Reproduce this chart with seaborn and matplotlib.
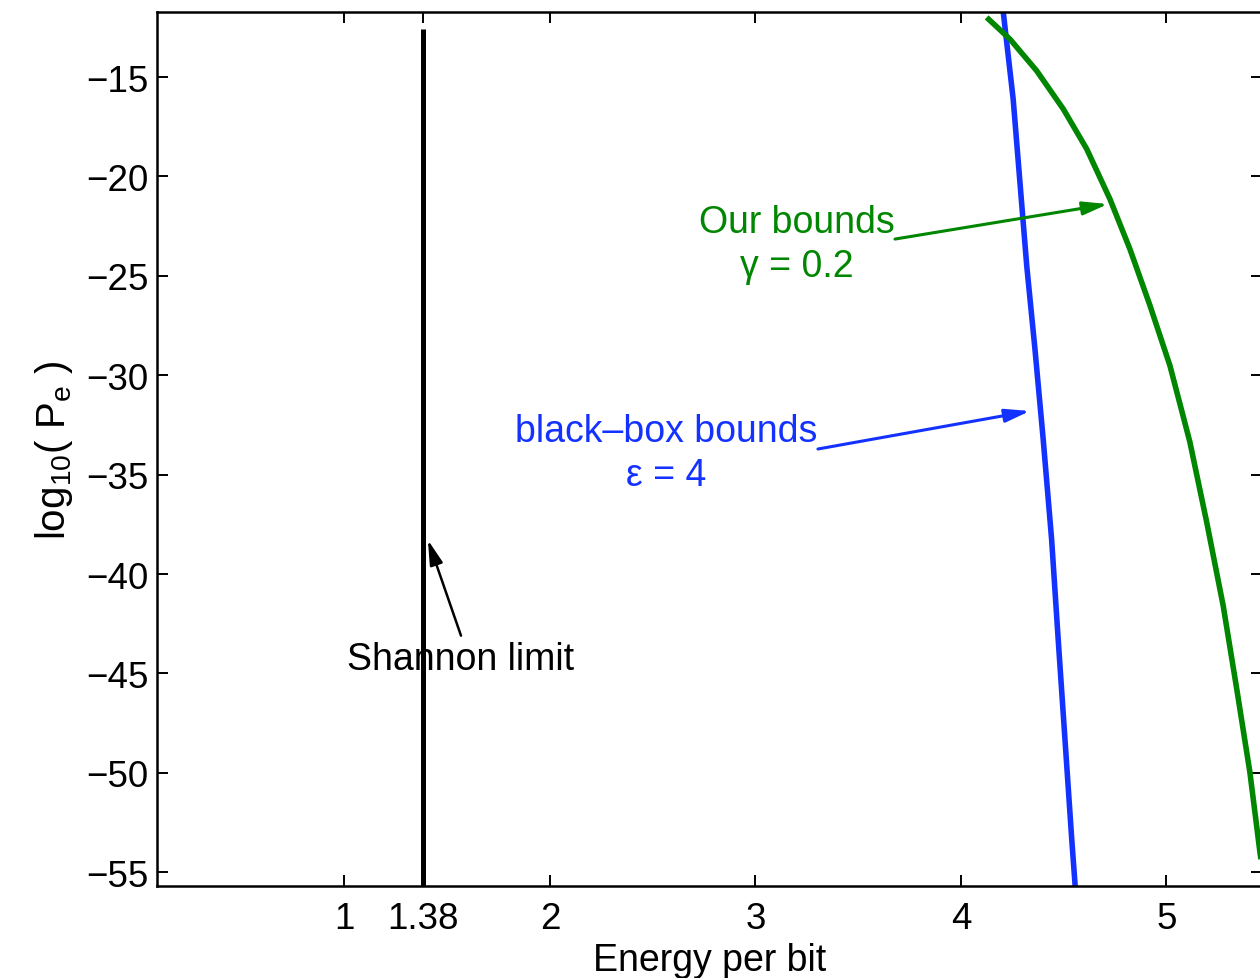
import matplotlib
matplotlib.use("Agg")
import matplotlib.pyplot as plt
import seaborn as sns
import pandas as pd

# Error-probability bounds versus energy per bit
green_energy = [4.125, 4.238, 4.368, 4.498, 4.612, 4.725, 4.822, 4.920, 5.017,
                5.114, 5.196, 5.276, 5.342, 5.406, 5.455, 5.480]
green_logpe = [-12.00, -13.09, -14.68, -16.61, -18.62, -21.14, -23.65, -26.50,
               -29.52, -33.36, -37.40, -41.59, -45.78, -49.97, -54.00, -55.70]

blue_energy = [4.200, 4.206, 4.254, 4.287, 4.320, 4.360, 4.400, 4.441, 4.473,
               4.506, 4.539, 4.555, 4.558]
blue_logpe = [-11.40, -11.75, -16.11, -20.30, -24.49, -28.68, -33.21, -38.24,
              -43.27, -48.30, -53.33, -55.59, -56.00]

shannon_energy = [1.38, 1.38]
shannon_logpe = [-12.6, -55.69]

x_ticks = [1, 1.38, 2, 3, 4, 5]
x_tick_labels = ["1", "1.38", "2", "3", "4", "5"]
y_ticks = [-55, -50, -45, -40, -35, -30, -25, -20, -15]

GREEN = "#008600"
BLUE = "#1432ff"

sns.set_theme(style="ticks")
plt.rcParams["font.family"] = ["Liberation Sans", "DejaVu Sans"]
plt.rcParams["mathtext.fontset"] = "custom"
plt.rcParams["mathtext.rm"] = "Liberation Sans"
plt.rcParams["mathtext.it"] = "Liberation Sans"
plt.rcParams["axes.unicode_minus"] = True
plt.rcParams["axes.labelcolor"] = "black"
plt.rcParams["text.color"] = "black"

fig = plt.figure(figsize=(12.6, 9.79), dpi=100)
ax = fig.add_axes([0.1246, 0.094, 0.877, 0.8927])

green_df = pd.DataFrame({"energy": green_energy, "logpe": green_logpe})
blue_df = pd.DataFrame({"energy": blue_energy, "logpe": blue_logpe})
shannon_df = pd.DataFrame({"energy": shannon_energy, "logpe": shannon_logpe})

line_kw = dict(estimator=None, sort=False, solid_joinstyle="round",
               solid_capstyle="butt")
sns.lineplot(data=shannon_df, x="energy", y="logpe", ax=ax, color="black",
             linewidth=3.6, **line_kw)
sns.lineplot(data=blue_df, x="energy", y="logpe", ax=ax, color=BLUE,
             linewidth=4.0, **line_kw)
sns.lineplot(data=green_df, x="energy", y="logpe", ax=ax, color=GREEN,
             linewidth=4.0, **line_kw)

ax.set_xlim(0.0876, 5.465)
ax.set_ylim(-55.69, -11.73)
ax.set_xticks(x_ticks)
ax.set_xticklabels(x_tick_labels)
ax.set_yticks(y_ticks)

ax.tick_params(axis="both", which="both", direction="in", length=8, width=1.4,
               labelsize=26.5, top=True, right=True, colors="black")
ax.tick_params(axis="x", pad=11)
ax.tick_params(axis="y", pad=6)
for side in ax.spines.values():
    side.set_linewidth(1.8)
    side.set_color("black")

ax.set_xlabel("Energy per bit", fontsize=27, labelpad=4, color="black")
ax.set_ylabel(r"log$_{10}$( P$_{\mathrm{e}}$ )", fontsize=29, labelpad=8,
              color="black")

# Annotations
head = "-|>,head_length=1.5,head_width=0.4"
ax.text(1.567, -44.28, "Shannon limit", ha="center", va="center",
        fontsize=27, color="black")
ax.annotate("", xy=(1.406, -38.29), xytext=(1.567, -43.1),
            arrowprops=dict(arrowstyle=head, color="black", lw=1.8,
                            shrinkA=0, shrinkB=0, mutation_scale=10))

ax.annotate("", xy=(4.715, -21.39), xytext=(3.679, -23.15),
            arrowprops=dict(arrowstyle=head, color=GREEN, lw=2.2,
                            shrinkA=0, shrinkB=0, mutation_scale=10))
ax.text(3.202, -23.4, "Our bounds\nγ = 0.2", ha="center", va="center",
        fontsize=27, color=GREEN, linespacing=1.3)

ax.annotate("", xy=(4.336, -31.80), xytext=(3.304, -33.71),
            arrowprops=dict(arrowstyle=head, color=BLUE, lw=2.2,
                            shrinkA=0, shrinkB=0, mutation_scale=10))
ax.text(2.566, -33.9, "black–box bounds\nε = 4", ha="center", va="center",
        fontsize=27, color=BLUE, linespacing=1.3)

fig.savefig("out.png", dpi=100)
